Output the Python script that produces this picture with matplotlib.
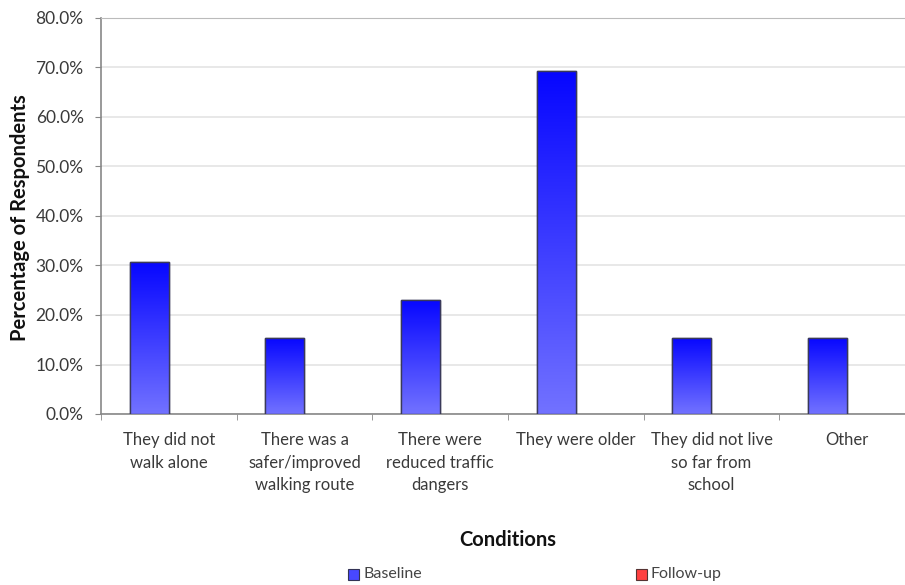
import numpy as np
import matplotlib
matplotlib.use("Agg")
import matplotlib.pyplot as plt
from matplotlib.colors import LinearSegmentedColormap
from matplotlib.patches import Rectangle

categories = ["They did not\nwalk alone", "There was a\nsafer/improved\nwalking route",
              "There were\nreduced traffic\ndangers", "They were older",
              "They did not live\nso far from\nschool", "Other"]
baseline = [30.8, 15.4, 23.1, 69.2, 15.4, 15.4]
followup = [0, 0, 0, 0, 0, 0]
yticks = [0, 10, 20, 30, 40, 50, 60, 70, 80]

plt.rcParams['font.family'] = ['Lato', 'DejaVu Sans']

W, H = 905, 585
fig = plt.figure(figsize=(W/100, H/100), dpi=100)
ax = fig.add_axes([101/W, (H-414)/H, (915-101)/W, (414-18)/H])

x = np.arange(len(categories))
bw = 0.288
off = 0.145
bars = ax.bar(x - off, baseline, bw, color='#3a3aff', edgecolor='#3a3a5a', linewidth=1.0, zorder=3)
ax.bar(x + off, followup, bw, color='#ff4040', edgecolor='#5a3a3a', linewidth=0, zorder=3)

cmap = LinearSegmentedColormap.from_list('g', ['#7272ff', '#0606ff'])
grad = np.linspace(0, 1, 256).reshape(-1, 1)
for b in bars:
    x0, y0 = b.get_x(), b.get_y()
    w, h = b.get_width(), b.get_height()
    im = ax.imshow(grad, cmap=cmap, origin='lower', aspect='auto',
                   extent=[x0, x0 + w, y0, y0 + h], zorder=3.5)
    im.set_clip_path(b)
    ax.add_patch(Rectangle((x0, y0), w, h, fill=False, edgecolor='#3a3a5a', linewidth=1.0, zorder=4))

ax.set_xlim(-0.5, len(categories) - 0.5)
ax.set_ylim(0, 80)
ax.set_yticks(yticks)
ax.set_yticklabels([f"{v:.1f}%" for v in yticks])
ax.yaxis.grid(True, color='#e4e4e4', linewidth=1.2, zorder=0)
ax.set_axisbelow(True)

ax.set_xticks(x)
ax.set_xticklabels(categories, linespacing=1.5, color='#3a3a3a', fontsize=12, va='top')
ax.set_xticks(np.arange(len(categories) + 1) - 0.5, minor=True)
ax.tick_params(axis='x', which='major', length=0, pad=13)
ax.tick_params(axis='x', which='minor', length=4, color='#888888', direction='out')
ax.tick_params(axis='y', length=4.5, color='#888888', labelsize=12.5, pad=8)
for lbl in ax.get_yticklabels():
    lbl.set_color('#3a3a3a')

ax.spines['right'].set_visible(False)
ax.spines['top'].set_color('#bbbbbb')
ax.spines['left'].set_color('#888888')
ax.spines['bottom'].set_color('#888888')
ax.spines['left'].set_linewidth(1.2)
ax.spines['bottom'].set_linewidth(1.2)

fig.text(20/W, 1 - 218/H, "Percentage of Respondents", rotation=90, ha='center', va='center',
         fontsize=14.5, fontweight='bold', color='#111111')
fig.text(508/W, 1 - 540/H, "Conditions", ha='center', va='center', fontsize=14.5,
         fontweight='bold', color='#111111')

# legend
fig.patches.append(Rectangle((348/W, 1 - 580/H), 11/W, 11/H, transform=fig.transFigure,
                             facecolor='#4848ff', edgecolor='#333355', linewidth=0.8))
fig.text(363/W, 1 - 574/H, "Baseline", ha='left', va='center', fontsize=11.5, color='#444444')
fig.patches.append(Rectangle((636/W, 1 - 580/H), 11/W, 11/H, transform=fig.transFigure,
                             facecolor='#ff4040', edgecolor='#553333', linewidth=0.8))
fig.text(651/W, 1 - 574/H, "Follow-up", ha='left', va='center', fontsize=11.5, color='#444444')

fig.savefig("out.png", dpi=100)
